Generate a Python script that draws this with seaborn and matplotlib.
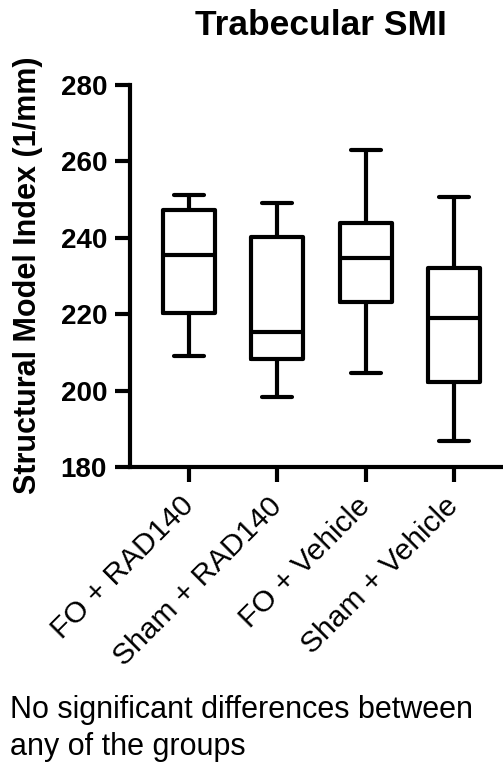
import numpy as np
import pandas as pd
import matplotlib
matplotlib.use("Agg")
import matplotlib.pyplot as plt
import seaborn as sns

# Five-number summaries per group (whiskers span min to max)
groups = ["FO + RAD140", "Sham + RAD140", "FO + Vehicle", "Sham + Vehicle"]
whisker_low = [209.1, 198.2, 204.5, 186.8]
q1 = [220.2, 208.2, 223.2, 202.3]
median = [235.5, 215.4, 234.8, 219.0]
q3 = [247.2, 240.3, 243.8, 232.0]
whisker_high = [251.2, 249.0, 263.0, 250.7]
y_ticks = [180, 200, 220, 240, 260, 280]

rows = []
for i, g in enumerate(groups):
    for v in (whisker_low[i], q1[i], median[i], q3[i], whisker_high[i]):
        rows.append({"group": g, "smi": v})
df = pd.DataFrame(rows)

sns.set_style("ticks")
plt.rcParams["font.family"] = ["Liberation Sans", "DejaVu Sans"]
plt.rcParams.update({
    "text.color": "black", "axes.labelcolor": "black",
    "xtick.color": "black", "ytick.color": "black",
    "axes.edgecolor": "black",
})

W, H = 503, 763
fig = plt.figure(figsize=(W / 100, H / 100), dpi=100)
ax = fig.add_axes([130 / W, 1 - 467 / H, (W - 130) / W, (467 - 85) / H])

sns.boxplot(
    data=df, x="group", y="smi", order=groups, ax=ax,
    whis=(0, 100), width=0.59, fill=False, color="black",
    linecolor="black", linewidth=3.0, showfliers=False,
    capwidths=0.34,
)

ax.set_ylim(180, 280)
ax.set_yticks(y_ticks)
ax.set_xlim(-0.668, 3.556)
for s in ("top", "right"):
    ax.spines[s].set_visible(False)
for s in ("left", "bottom"):
    ax.spines[s].set_linewidth(3.0)
    ax.spines[s].set_color("black")
    ax.spines[s].set_capstyle("projecting")
ax.tick_params(axis="both", direction="out", length=11, width=3.0,
               color="black", labelcolor="black")
ax.tick_params(axis="y", pad=5.5, labelsize=20)
ax.tick_params(axis="x", pad=14)
for lbl in ax.get_yticklabels():
    lbl.set_fontweight("bold")
ax.set_xticks(range(len(groups)))
ax.set_xticklabels(groups, rotation=45, ha="right", va="center",
                   rotation_mode="anchor", fontsize=21.5)
ax.set_xlabel("")
ax.set_ylabel("")

fig.text(28 / W, 1 - 275 / H, "Structural Model Index (1/mm)", rotation=90,
         ha="center", va="center", fontsize=22, fontweight="bold")
fig.text(321 / W, 1 - 35 / H, "Trabecular SMI", ha="center", va="baseline",
         fontsize=25.5, fontweight="bold")
fig.text(10 / W, 1 - 718 / H, "No significant differences between",
         ha="left", va="baseline", fontsize=22)
fig.text(10 / W, 1 - 755 / H, "any of the groups",
         ha="left", va="baseline", fontsize=22)

fig.savefig("out.png", dpi=100, facecolor="white")
